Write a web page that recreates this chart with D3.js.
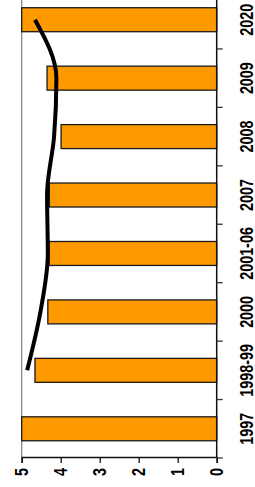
<!DOCTYPE html>
<html>
<head>
<meta charset="utf-8">
<script src="https://cdn.jsdelivr.net/npm/d3@7"></script>
<style>
  body { margin: 0; background: #fff; }
  svg { display: block; }
  text { font-family: "Liberation Sans", Arial, sans-serif; font-weight: bold; }
</style>
</head>
<body>
<svg id="chart" width="255" height="487"></svg>
<script>
const categories = ["1997", "1998-99", "2000", "2001-06", "2007", "2008", "2009", "2020"];
const barValues = [5.0, 4.66, 4.33, 4.30, 4.29, 3.99, 4.35, 5.0];
const lineValues = [null, 4.86, 4.52, 4.33, 4.35, 4.17, 4.11, 4.66];
const valueTicks = [0, 1, 2, 3, 4, 5];

const W = 255, H = 487;
const narrow = 0.82; // glyphs are condensed like Arial Narrow
const svg = d3.select("#chart");

// the whole chart is a column chart turned a quarter turn counter-clockwise
const g = svg.append("g").attr("transform", `translate(0,${H}) rotate(-90)`);

const x = d3.scaleBand()
  .domain(categories)
  .range([29, 496.5])
  .paddingInner(0.59)
  .paddingOuter(0.295);

const y = d3.scaleLinear().domain([0, 5]).range([216.7, 21.7]);

// plot area border (gray, only the top edge shows)
g.append("line")
  .attr("x1", 29).attr("x2", 500)
  .attr("y1", y(5)).attr("y2", y(5))
  .attr("stroke", "#8a8a8a").attr("stroke-width", 1.3);

// bars
g.selectAll("rect.bar")
  .data(categories.map((c, i) => ({ c, v: barValues[i] })))
  .join("rect")
  .attr("class", "bar")
  .attr("x", d => x(d.c))
  .attr("width", x.bandwidth())
  .attr("y", d => y(d.v))
  .attr("height", d => y(0) - y(d.v))
  .attr("fill", "#ff9900")
  .attr("stroke", "#1a1a1a")
  .attr("stroke-width", 1.3);

// value axis
const yAxis = g.append("g")
  .attr("transform", `translate(${x.range()[0]},0)`)
  .call(d3.axisLeft(y).tickValues(valueTicks).tickFormat(d3.format("d")).tickSize(5).tickPadding(5));
yAxis.attr("font-family", null).attr("font-size", null);
yAxis.select(".domain").attr("stroke", "#111").attr("stroke-width", 1.5);
yAxis.selectAll(".tick line").attr("stroke", "#111").attr("stroke-width", 1.3);
yAxis.selectAll(".tick text")
  .attr("font-size", 17.5)
  .attr("fill", "#000")
  .attr("transform", d => `translate(-10,0) scale(${narrow},1) translate(10,0)`);

// category axis
const gap = (x.step() - x.bandwidth()) / 2;
const bounds = categories.map(c => x(c) - gap);
bounds.push(x(categories[categories.length - 1]) + x.bandwidth() + gap);

g.append("line")
  .attr("x1", x.range()[0]).attr("x2", 500)
  .attr("y1", y(0)).attr("y2", y(0))
  .attr("stroke", "#111").attr("stroke-width", 1.5);

g.selectAll("line.ctick")
  .data(bounds)
  .join("line")
  .attr("class", "ctick")
  .attr("x1", d => d).attr("x2", d => d)
  .attr("y1", y(0)).attr("y2", y(0) + 6)
  .attr("stroke", "#333").attr("stroke-width", 1.3);

g.selectAll("text.cat")
  .data(categories)
  .join("text")
  .attr("class", "cat")
  .attr("transform", d => `translate(${x(d) + x.bandwidth() / 2},252.5) scale(${narrow},1)`)
  .attr("text-anchor", "middle")
  .attr("font-size", 17.5)
  .text(d => d);

// line series
const line = d3.line()
  .defined(d => d.v != null)
  .x(d => x(d.c) + x.bandwidth() / 2)
  .y(d => y(d.v))
  .curve(d3.curveMonotoneX);

g.append("path")
  .datum(categories.map((c, i) => ({ c, v: lineValues[i] })))
  .attr("d", line)
  .attr("fill", "none")
  .attr("stroke", "#000")
  .attr("stroke-width", 4);
</script>
</body>
</html>
